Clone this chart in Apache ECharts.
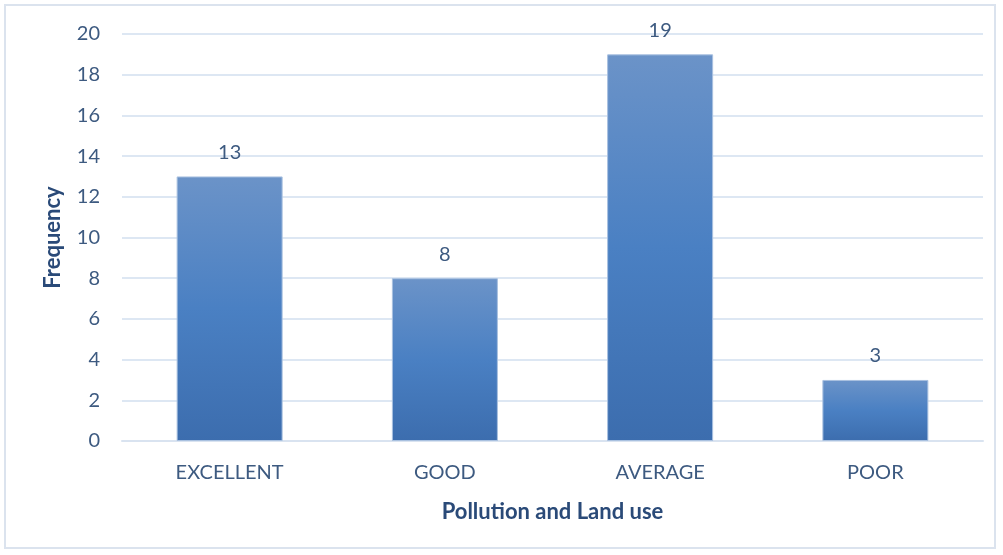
<!DOCTYPE html>
<html>
<head>
<meta charset="utf-8">
<script src="https://cdn.jsdelivr.net/npm/echarts@6/dist/echarts.min.js"></script>
<style>
  html, body { margin: 0; padding: 0; background: #fff; }
  #frame { position: absolute; left: 4px; top: 4px; width: 992px; height: 545px; border: 2px solid #dbe3ee; box-sizing: border-box; }
  #main { position: absolute; left: 0; top: 0; width: 1003px; height: 555px; }
</style>
</head>
<body>
<div id="frame"></div>
<div id="main"></div>
<script>
const categories = ['EXCELLENT', 'GOOD', 'AVERAGE', 'POOR'];
const frequency = [13, 8, 19, 3];
const yMin = 0, yMax = 20, yStep = 2;

const textColor = '#3d5a80';
const titleColor = '#2a4a78';
const font = 'Lato';

const myChart = echarts.init(document.getElementById('main'));
myChart.setOption({
  animation: false,
  grid: { left: 122, right: 20, top: 34, bottom: 114 },
  xAxis: {
    type: 'category',
    data: categories,
    name: 'Pollution and Land use',
    nameLocation: 'middle',
    nameGap: 60,
    nameTextStyle: { color: titleColor, fontSize: 22, fontWeight: 'bold', fontFamily: font },
    axisLine: { show: true, lineStyle: { color: '#d9e3f0', width: 2 } },
    axisTick: { show: false },
    axisLabel: { color: textColor, fontSize: 20, fontFamily: font, margin: 22 }
  },
  yAxis: {
    type: 'value',
    min: yMin, max: yMax, interval: yStep,
    name: 'Frequency',
    nameLocation: 'middle',
    nameGap: 58,
    nameRotate: 90,
    nameTextStyle: { color: titleColor, fontSize: 22, fontWeight: 'bold', fontFamily: font },
    axisLine: { show: false },
    axisTick: { show: false },
    axisLabel: { color: textColor, fontSize: 20, fontFamily: font, margin: 22 },
    splitLine: { lineStyle: { color: '#dde7f3', width: 2 } }
  },
  series: [{
    type: 'bar',
    data: frequency,
    barWidth: 106,
    itemStyle: {
      borderColor: '#a9c1e0',
      borderWidth: 1,
      color: new echarts.graphic.LinearGradient(0, 0, 0, 1, [
        { offset: 0, color: '#6b93c8' },
        { offset: 0.5, color: '#4a80c3' },
        { offset: 1, color: '#3c6dae' }
      ])
    },
    label: {
      show: true,
      position: 'top',
      distance: 14,
      color: textColor,
      fontSize: 20,
      fontFamily: font
    }
  }]
});
</script>
</body>
</html>
